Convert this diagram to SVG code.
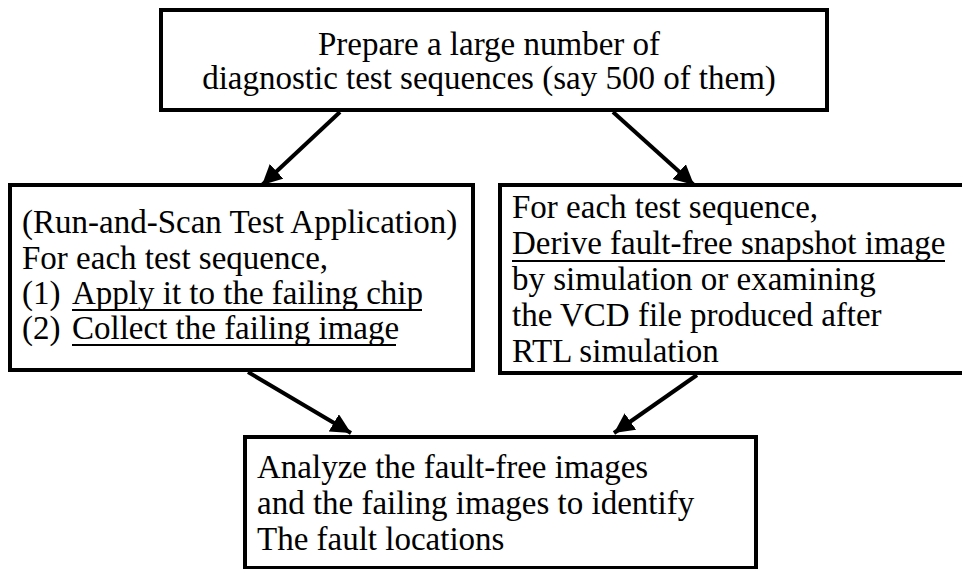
<svg xmlns="http://www.w3.org/2000/svg" width="962" height="569" viewBox="0 0 962 569">
  <style>
    .box { fill: #ffffff; stroke: #000000; stroke-width: 4; }
    .txt { font-family: "Liberation Serif", "Times New Roman", serif; font-size: 33px; fill: #000000; }
    .ul { stroke: #000000; stroke-width: 2; }
    .conn { stroke: #000000; stroke-width: 4; fill: none; marker-end: url(#arrow); }
  </style>
  <defs>
    <!-- solid triangular arrowhead shared by every connector -->
    <marker id="arrow" markerUnits="userSpaceOnUse" markerWidth="24" markerHeight="20" refX="20" refY="10" orient="auto">
      <path d="M0,0 L20,10 L0,20 Z" fill="#000000"/>
    </marker>
  </defs>
  <rect width="962" height="569" fill="#ffffff"/>

  <g id="prepare">
    <rect class="box" x="161" y="10" width="666" height="100"/>
    <text class="txt" x="489" y="55" text-anchor="middle">Prepare a large number of</text>
    <text class="txt" x="489" y="89" text-anchor="middle">diagnostic test sequences (say 500 of them)</text>
  </g>

  <g id="apply">
    <rect class="box" x="10" y="185" width="463" height="185"/>
    <text class="txt" x="22" y="233">(Run-and-Scan Test Application)</text>
    <text class="txt" x="22" y="269">For each test sequence,</text>
    <text class="txt" x="22" y="304">(1)</text>
    <text class="txt" x="72" y="304">Apply it to the failing chip</text>
    <line class="ul" x1="72" y1="310" x2="422" y2="310"/>
    <text class="txt" x="22" y="339">(2)</text>
    <text class="txt" x="72" y="339">Collect the failing image</text>
    <line class="ul" x1="72" y1="345" x2="396" y2="345"/>
  </g>

  <g id="derive">
    <rect class="box" x="500" y="185" width="464" height="188"/>
    <text class="txt" x="512" y="218">For each test sequence,</text>
    <text class="txt" x="512" y="254">Derive fault-free snapshot image</text>
    <line class="ul" x1="512" y1="261" x2="945" y2="261"/>
    <text class="txt" x="512" y="290">by simulation or examining</text>
    <text class="txt" x="512" y="326">the VCD file produced after</text>
    <text class="txt" x="512" y="362">RTL simulation</text>
  </g>

  <g id="analyze">
    <rect class="box" x="245" y="437" width="511" height="131"/>
    <text class="txt" x="257" y="478">Analyze the fault-free images</text>
    <text class="txt" x="257" y="514">and the failing images to identify</text>
    <text class="txt" x="257" y="550">The fault locations</text>
  </g>

  <g id="connectors">
    <line class="conn" x1="340" y1="112" x2="262" y2="185"/>
    <line class="conn" x1="613" y1="112" x2="694" y2="185"/>
    <line class="conn" x1="248" y1="372" x2="351" y2="433"/>
    <line class="conn" x1="697" y1="375" x2="614" y2="433"/>
  </g>
</svg>
